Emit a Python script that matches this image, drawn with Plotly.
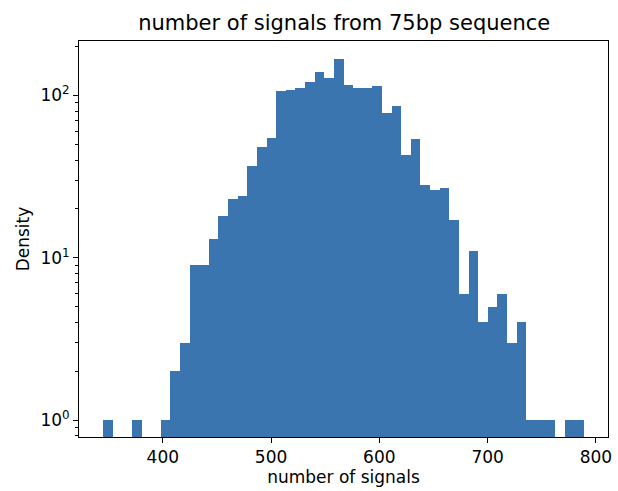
import plotly.graph_objects as go

# Histogram of signal counts: 50 equal-width bins between the min and max value
bin_start = 344.8
bin_end = 789.0
n_bins = 50
counts = [1, 0, 0, 1, 0, 0, 1, 2, 3, 9,
          9, 13, 18, 23, 24, 37, 48, 55, 107, 108,
          111, 122, 140, 128, 168, 116, 111, 111, 114, 78,
          86, 43, 54, 28, 26, 27, 17, 6, 11, 4,
          5, 6, 3, 4, 1, 1, 1, 0, 1, 1]

x_ticks = [400, 500, 600, 700, 800]
y_ticks = [1, 10, 100]
y_tick_labels = ["10<sup>0</sup>", "10<sup>1</sup>", "10<sup>2</sup>"]
y_minor = [0.8, 0.9] + [k for k in range(2, 10)] + [k * 10 for k in range(2, 10)] + [200]

width = (bin_end - bin_start) / n_bins
centers = [bin_start + width * (i + 0.5) for i in range(n_bins)]
xs = [c for c, n in zip(centers, counts) if n > 0]
ys = [n for n in counts if n > 0]

FONT = "DejaVu Sans"
BAR = "#3b75af"
TICK_SIZE = 17

fig = go.Figure(go.Bar(
    x=xs, y=ys, width=width,
    marker=dict(color=BAR, line=dict(width=0)),
))

span = bin_end - bin_start
fig.update_layout(
    width=618, height=491,
    margin=dict(l=79, r=6, t=41, b=54),
    paper_bgcolor="white", plot_bgcolor="white",
    bargap=0, showlegend=False,
    font=dict(family=FONT, size=TICK_SIZE, color="black"),
    title=dict(text="number of signals from 75bp sequence",
               x=0.557, xanchor="center", y=0.953, yanchor="middle",
               font=dict(family=FONT, size=21, color="black")),
)
fig.update_xaxes(
    range=[bin_start - 0.05 * span, bin_end + 0.05 * span],
    tickvals=x_ticks, ticks="outside", ticklen=5, tickwidth=1, tickcolor="black",
    showline=True, linecolor="black", linewidth=1, mirror=True,
    showgrid=False, zeroline=False,
    tickfont=dict(family=FONT, size=TICK_SIZE),
    title=dict(text="number of signals", standoff=4,
               font=dict(family=FONT, size=TICK_SIZE)),
)
fig.update_yaxes(
    type="log", range=[-0.104, 2.336],
    tickvals=y_ticks, ticktext=y_tick_labels,
    ticks="outside", ticklen=5, tickwidth=1, tickcolor="black",
    minor=dict(tickvals=y_minor, ticks="outside", ticklen=3,
               tickwidth=0.8, tickcolor="black", showgrid=False),
    showline=True, linecolor="black", linewidth=1, mirror=True,
    showgrid=False, zeroline=False,
    tickfont=dict(family=FONT, size=TICK_SIZE),
    title=dict(text="Density", standoff=6,
               font=dict(family=FONT, size=TICK_SIZE)),
)

fig.write_html("out.html")
